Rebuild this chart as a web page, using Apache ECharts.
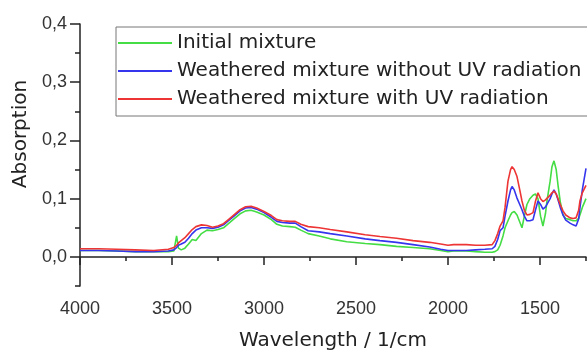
<!DOCTYPE html>
<html>
<head>
<meta charset="utf-8">
<script src="https://cdn.jsdelivr.net/npm/echarts@6/dist/echarts.min.js"></script>
<style>
html,body{margin:0;padding:0;background:#fff;}
#chart{width:587px;height:356px;}
</style>
</head>
<body>
<div id="chart"></div>
<script>
const wavenumbers = [4000,3900,3800,3700,3600,3520,3490,3475,3465,3450,3430,3410,3390,3370,3340,3310,3280,3250,3220,3190,3160,3130,3100,3070,3040,3000,2960,2930,2900,2860,2830,2800,2760,2700,2640,2550,2450,2370,2280,2190,2100,2040,2000,1970,1900,1850,1800,1760,1745,1730,1717,1701,1690,1674,1660,1652,1640,1625,1610,1598,1585,1571,1555,1538,1525,1511,1497,1484,1470,1462,1445,1435,1424,1412,1402,1390,1375,1360,1337,1320,1304,1290,1283,1270,1250];

const initialMixture = [0.011,0.011,0.010,0.009,0.009,0.009,0.010,0.036,0.015,0.012,0.015,0.022,0.030,0.028,0.040,0.046,0.045,0.047,0.050,0.058,0.066,0.074,0.079,0.080,0.077,0.072,0.064,0.056,0.053,0.052,0.051,0.046,0.040,0.036,0.031,0.026,0.023,0.021,0.018,0.016,0.014,0.011,0.009,0.010,0.010,0.009,0.008,0.008,0.009,0.012,0.020,0.036,0.050,0.062,0.072,0.076,0.078,0.072,0.060,0.050,0.070,0.090,0.100,0.106,0.108,0.100,0.070,0.053,0.075,0.096,0.130,0.155,0.165,0.150,0.123,0.095,0.072,0.066,0.064,0.062,0.062,0.066,0.072,0.085,0.100];

const weatheredNoUV = [0.011,0.011,0.010,0.009,0.009,0.010,0.012,0.016,0.020,0.022,0.025,0.032,0.040,0.046,0.050,0.050,0.049,0.051,0.055,0.063,0.071,0.079,0.084,0.085,0.082,0.076,0.068,0.061,0.059,0.058,0.058,0.052,0.045,0.043,0.040,0.036,0.031,0.028,0.025,0.021,0.017,0.013,0.011,0.011,0.011,0.012,0.013,0.014,0.018,0.030,0.045,0.050,0.070,0.096,0.115,0.121,0.115,0.101,0.090,0.081,0.070,0.062,0.062,0.064,0.080,0.096,0.090,0.082,0.086,0.089,0.100,0.108,0.115,0.108,0.098,0.085,0.072,0.063,0.058,0.055,0.053,0.065,0.084,0.115,0.152];

const weatheredUV = [0.014,0.014,0.013,0.012,0.011,0.013,0.016,0.020,0.024,0.028,0.033,0.040,0.047,0.052,0.055,0.054,0.051,0.053,0.057,0.065,0.073,0.081,0.086,0.087,0.084,0.078,0.071,0.064,0.062,0.061,0.061,0.056,0.052,0.050,0.047,0.043,0.038,0.035,0.032,0.028,0.025,0.022,0.020,0.021,0.021,0.020,0.020,0.021,0.028,0.040,0.053,0.062,0.085,0.130,0.150,0.155,0.150,0.138,0.115,0.096,0.080,0.072,0.073,0.076,0.095,0.110,0.100,0.095,0.098,0.100,0.106,0.110,0.113,0.108,0.100,0.090,0.079,0.072,0.067,0.066,0.067,0.080,0.096,0.110,0.123];

const seriesNames = ['Initial mixture','Weathered mixture without UV radiation','Weathered mixture with UV radiation'];
const xMajorTicks = [1500,2000,2500,3000,3500,4000];
const xMinorTicks = [1250,1750,2250,2750,3250,3750];
const yMajorTicks = [0,0.1,0.2,0.3,0.4];
const yMinorTicks = [-0.05,0.05,0.15,0.25,0.35];

const chart = echarts.init(document.getElementById('chart'), null, {renderer:'canvas'});
const axisColor = '#222';
const tickFont = {fontSize:18, fontFamily:"'Liberation Sans', Arial, sans-serif", color:'#333'};
const pair = arr => wavenumbers.map((w,i)=>[w, arr[i]]);

chart.setOption({
  animation:false,
  backgroundColor:'#fff',
  grid:{left:80, top:24, width:506, height:265, containLabel:false},
  legend:{
    data:seriesNames,
    orient:'vertical',
    left:116, top:27,
    icon:'rect',
    itemWidth:54, itemHeight:2, itemGap:8,
    padding:[6,10,7,2],
    borderColor:'#777', borderWidth:1, backgroundColor:'#fff',
    textStyle:{fontSize:20, fontFamily:"'DejaVu Sans', sans-serif", color:'#222'}
  },
  xAxis:[{
    type:'value', inverse:true, min:1250, max:4000, position:'bottom',
    axisLine:{show:true, lineStyle:{color:axisColor, width:1.5}},
    axisTick:{show:true, customValues:xMajorTicks, length:8, lineStyle:{color:axisColor, width:1.5}},
    axisLabel:Object.assign({customValues:xMajorTicks, margin:14, formatter:v=>String(v)}, tickFont),
    splitLine:{show:false},
    name:'Wavelength / 1/cm', nameLocation:'middle', nameGap:45,
    nameTextStyle:{fontSize:20, fontFamily:"'DejaVu Sans', sans-serif", color:'#222'}
  },{
    type:'value', inverse:true, min:1250, max:4000, position:'bottom', offset:0,
    axisLine:{show:false},
    axisTick:{show:true, customValues:xMinorTicks, length:4, lineStyle:{color:axisColor, width:1.5}},
    axisLabel:{show:false},
    splitLine:{show:false}
  }],
  yAxis:[{
    type:'value', min:-0.05, max:0.4, position:'left',
    axisLine:{show:true, lineStyle:{color:axisColor, width:1.5}},
    axisTick:{show:true, customValues:yMajorTicks, length:10, lineStyle:{color:axisColor, width:1.5}},
    axisLabel:Object.assign({customValues:yMajorTicks, margin:13, formatter:v=>v.toFixed(1).replace('.',',')}, tickFont),
    splitLine:{show:false},
    name:'Absorption', nameLocation:'middle', nameGap:45,
    nameTextStyle:{fontSize:20, fontFamily:"'DejaVu Sans', sans-serif", color:'#222', padding:[0,0,0,42]}
  },{
    type:'value', min:-0.05, max:0.4, position:'left', offset:0,
    axisLine:{show:false},
    axisTick:{show:true, customValues:yMinorTicks, length:5, lineStyle:{color:axisColor, width:1.5}},
    axisLabel:{show:false},
    splitLine:{show:false}
  }],
  series:[
    {name:seriesNames[0], type:'line', data:pair(initialMixture), symbol:'none', xAxisIndex:0, yAxisIndex:0,
     lineStyle:{color:'#44dd44', width:1.6}, itemStyle:{color:'#44dd44'}},
    {name:seriesNames[1], type:'line', data:pair(weatheredNoUV), symbol:'none', xAxisIndex:0, yAxisIndex:0,
     lineStyle:{color:'#3535ee', width:1.6}, itemStyle:{color:'#3535ee'}},
    {name:seriesNames[2], type:'line', data:pair(weatheredUV), symbol:'none', xAxisIndex:0, yAxisIndex:0,
     lineStyle:{color:'#ee3535', width:1.6}, itemStyle:{color:'#ee3535'}}
  ]
});
</script>
</body>
</html>
